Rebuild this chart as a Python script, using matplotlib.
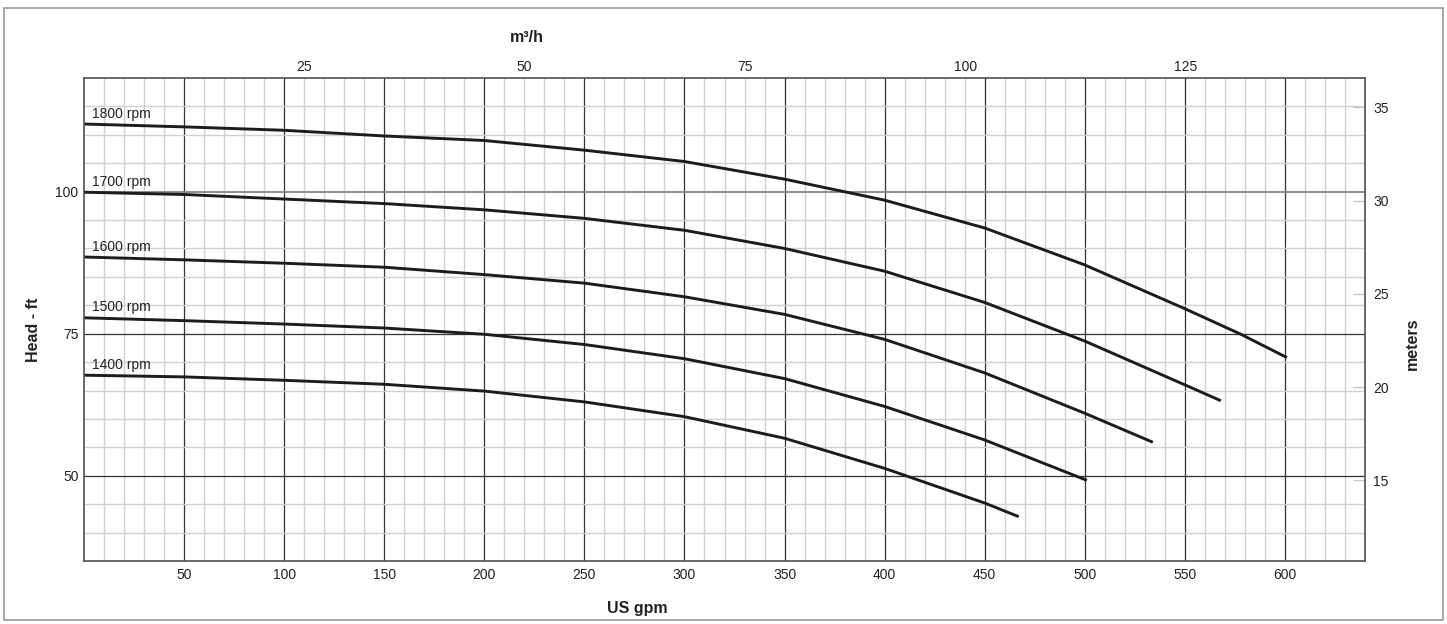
import matplotlib
matplotlib.use("Agg")
import matplotlib.pyplot as plt
from matplotlib import font_manager
import numpy as np

plt.rcParams['font.family'] = ['Liberation Sans', 'DejaVu Sans']

# pump curves: flow in US gpm, head in ft
gpm_1800 = [0, 50, 100, 150, 200, 250, 300, 350, 400, 450, 500, 550, 578, 601]
head_1800 = [111.9, 111.4, 110.8, 109.8, 109.0, 107.3, 105.3, 102.2, 98.5, 93.6, 87.1, 79.4, 74.9, 70.8]

gpm_1700 = [0, 50, 100, 150, 200, 250, 300, 350, 400, 450, 500, 550, 568]
head_1700 = [99.9, 99.5, 98.7, 97.9, 96.8, 95.3, 93.2, 90.0, 86.0, 80.5, 73.7, 66.0, 63.2]

gpm_1600 = [0, 50, 100, 150, 200, 250, 300, 350, 400, 450, 500, 534]
head_1600 = [88.5, 88.0, 87.4, 86.7, 85.4, 83.9, 81.5, 78.4, 74.0, 68.1, 61.0, 55.9]

gpm_1500 = [0, 50, 100, 150, 200, 250, 300, 350, 400, 450, 501]
head_1500 = [77.8, 77.3, 76.7, 76.0, 74.9, 73.1, 70.6, 67.1, 62.2, 56.3, 49.2]

gpm_1400 = [0, 50, 100, 150, 200, 250, 300, 350, 400, 450, 467]
head_1400 = [67.7, 67.4, 66.8, 66.1, 64.9, 63.0, 60.4, 56.6, 51.3, 45.2, 42.8]

curve_labels = ["1800 rpm", "1700 rpm", "1600 rpm", "1500 rpm", "1400 rpm"]
curves = [(gpm_1800, head_1800), (gpm_1700, head_1700), (gpm_1600, head_1600),
          (gpm_1500, head_1500), (gpm_1400, head_1400)]

gpm_ticks = [50, 100, 150, 200, 250, 300, 350, 400, 450, 500, 550, 600]
ft_ticks = [50, 75, 100]
m3h_ticks = [25, 50, 75, 100, 125]
meter_ticks = [15, 20, 25, 30, 35]

GPM_TO_M3H = 0.227125
FT_TO_M = 0.3048

# narrow bold face for the axis titles if it is installed
installed = {f.name for f in font_manager.fontManager.ttflist}
title_family = ['Liberation Sans Narrow'] if 'Liberation Sans Narrow' in installed else ['Liberation Sans']
title_size = 13 if 'Liberation Sans Narrow' in installed else 11.5

fig = plt.figure(figsize=(14.47, 6.24), dpi=100)
ax = fig.add_axes([84 / 1447, 1 - 561 / 624, (1365 - 84) / 1447, (561 - 78) / 624])

# outer frame around the whole picture
fig.patches.append(plt.Rectangle((4 / 1447, 1 - 620 / 624), 1439 / 1447, 612 / 624,
                                 transform=fig.transFigure, fill=False,
                                 ec='#9a9a9a', lw=1.2))

ax.set_xlim(0, 640)
ax.set_ylim(35, 120)

ax.set_xticks(gpm_ticks)
ax.set_xticks(np.arange(10, 640, 10), minor=True)
ax.set_yticks(ft_ticks)
ax.set_yticks(np.arange(40, 120, 5), minor=True)

ax.grid(which='minor', color='#d0d0d0', lw=1.0)
ax.grid(which='major', color='#333333', lw=0.9)
for val, gl in zip(ft_ticks, ax.get_ygridlines()):
    if val == 100:
        gl.set_color('#858585')
        gl.set_linewidth(1.3)
ax.set_axisbelow(True)

ax.tick_params(which='both', length=0, labelsize=10, labelcolor='#222222')
ax.tick_params(axis='x', pad=5)
ax.tick_params(axis='y', pad=4)
for sp in ax.spines.values():
    sp.set_color('#505050')
    sp.set_linewidth(1.2)

for (q, h), lab in zip(curves, curve_labels):
    ax.plot(q, h, color='#1c1c1c', lw=2.1, solid_capstyle='butt')
    ax.text(4, h[0] + 0.6, lab, fontsize=10, color='#222222', ha='left', va='bottom')

# secondary scales
top = ax.secondary_xaxis('top', functions=(lambda x: x * GPM_TO_M3H, lambda x: x / GPM_TO_M3H))
top.set_xticks(m3h_ticks)
top.tick_params(length=0, labelsize=10, labelcolor='#222222', pad=3)
top.spines['top'].set_visible(False)

right = ax.secondary_yaxis('right', functions=(lambda y: y * FT_TO_M, lambda y: y / FT_TO_M))
right.set_yticks(meter_ticks)
right.tick_params(direction='in', length=9, width=1.0, color='#c8c8c8',
                  labelsize=10, labelcolor='#222222', pad=6)
right.spines['right'].set_visible(False)

title_kw = dict(fontsize=title_size, fontweight='bold', family=title_family,
                color='#222222', ha='center', va='center')
fig.text(637 / 1447, 1 - 608 / 624, "US gpm", **title_kw)
fig.text(527 / 1447, 1 - 38 / 624, "m³/h", **title_kw)
fig.text(33 / 1447, 1 - 330 / 624, "Head - ft", rotation=90, **title_kw)
fig.text(1412 / 1447, 1 - 344 / 624, "meters", rotation=90, **title_kw)

fig.savefig("out.png", dpi=100)
